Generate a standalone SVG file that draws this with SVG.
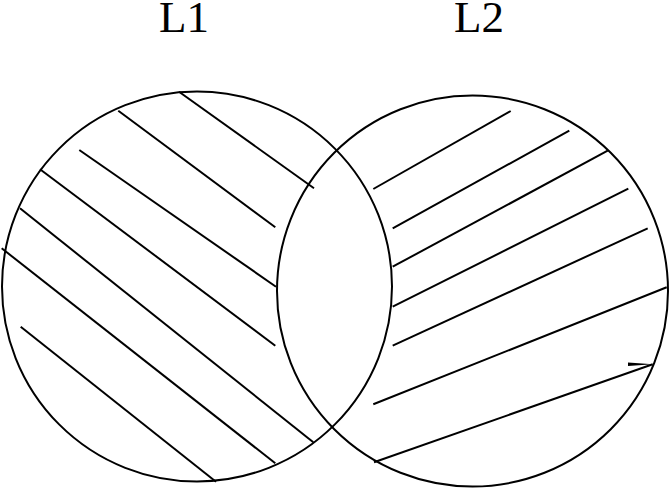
<svg xmlns="http://www.w3.org/2000/svg" width="669" height="488" viewBox="0 0 669 488">
<style>
.c{fill:none;stroke:#000;stroke-width:2}
.h{stroke:#000;stroke-width:2;fill:none}
.t{font-family:"Liberation Serif","Times New Roman",serif;font-size:45px;fill:#000}
</style>
<rect width="669" height="488" fill="#fff"/>
<g id="L1">
<circle class="c" cx="197" cy="286.5" r="195"/>
<text class="t" x="159" y="32">L1</text>
</g>
<g id="L2">
<circle class="c" cx="472.5" cy="291" r="195.5"/>
<text class="t" x="454" y="32">L2</text>
</g>
<g id="hatch">
<line class="h" x1="179" y1="91.7" x2="314" y2="188.3"/>
<line class="h" x1="118.3" y1="110.7" x2="275.3" y2="227.3"/>
<line class="h" x1="79.3" y1="150" x2="276" y2="286.7"/>
<line class="h" x1="40" y1="169.3" x2="275.3" y2="345.7"/>
<line class="h" x1="20" y1="208.3" x2="313.3" y2="442.3"/>
<line class="h" x1="1.7" y1="248.3" x2="275.3" y2="463.3"/>
<line class="h" x1="20.7" y1="326.7" x2="216" y2="481.7"/>
<line class="h" x1="510.7" y1="111" x2="373.3" y2="189"/>
<line class="h" x1="569.3" y1="130.7" x2="392.7" y2="228.3"/>
<line class="h" x1="607.7" y1="150.7" x2="392.7" y2="266.7"/>
<line class="h" x1="628.3" y1="188.7" x2="392.7" y2="306.7"/>
<line class="h" x1="647.7" y1="228.3" x2="392.7" y2="345.7"/>
<line class="h" x1="666.7" y1="287.3" x2="373.3" y2="404.3"/>
<line class="h" x1="652.7" y1="364.3" x2="374" y2="462.3"/>
<polygon points="628,362.5 628,366 653,364.2" fill="#000"/>
</g>
</svg>
